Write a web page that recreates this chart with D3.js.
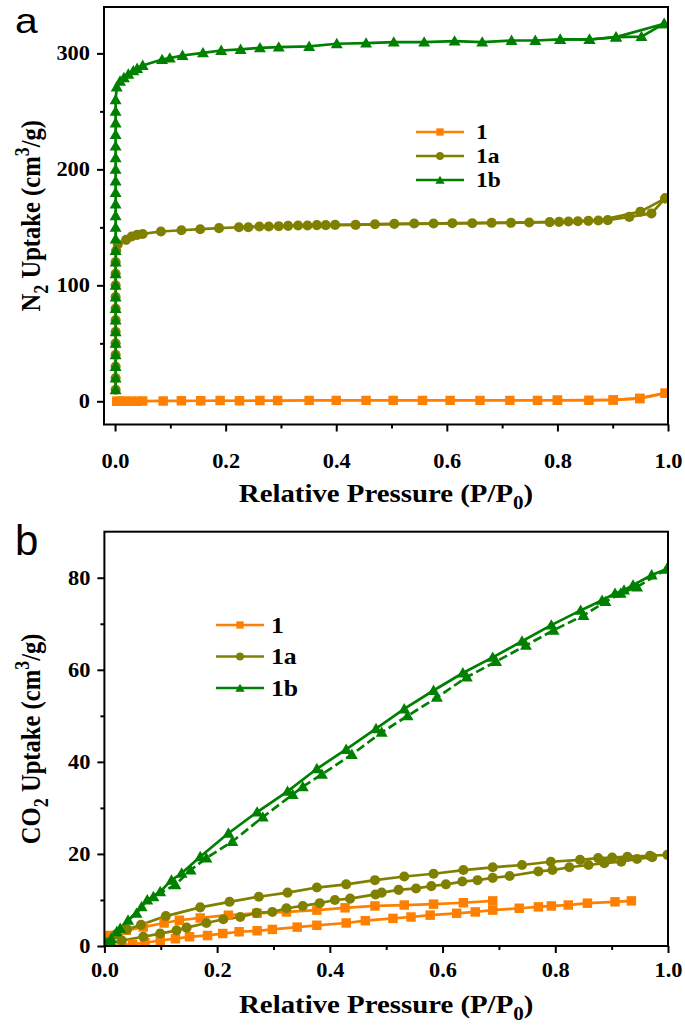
<!DOCTYPE html>
<html><head><meta charset="utf-8">
<script src="https://cdn.jsdelivr.net/npm/d3@7"></script>
<style>body{margin:0;background:#fff} svg{display:block}</style>
</head><body>
<svg id="c" width="685" height="1028"></svg>
<script>
// ---------- data ----------
const seriesNames = ["1", "1a", "1b"];
const xTickLabels = [0.0, 0.2, 0.4, 0.6, 0.8, 1.0];
const xMinorTicks = [0.1, 0.3, 0.5, 0.7, 0.9];
const aYTicks = [0, 100, 200, 300];
const aYMinor = [50, 150, 250];
const bYTicks = [0, 20, 40, 60, 80];
const bYMinor = [10, 30, 50, 70];

// Panel a: N2 uptake, [P/P0, cm3/g]
const a1Ads = [[0.003,0],[0.008,0],[0.013,0],[0.02,0],[0.03,0],[0.04,0],[0.05,0.2],[0.087,0.3],[0.12,0.4],[0.155,0.5],[0.19,0.6],[0.225,0.5],[0.262,0.6],[0.294,0.6],[0.351,0.8],[0.40,0.8],[0.454,0.8],[0.503,0.8],[0.556,0.8],[0.606,0.8],[0.66,0.8],[0.714,0.8],[0.764,0.8],[0.80,0.9],[0.857,0.9],[0.901,1.2],[0.949,2.5],[0.995,7]];
const a1Des = [[0.995,7],[0.949,2.5],[0.901,1.2],[0.80,0.9]];
const a1aAds = [[0.001,10],[0.001,20],[0.001,30],[0.001,40],[0.001,50],[0.001,60],[0.001,70],[0.001,80],[0.001,90],[0.001,100],[0.001,110],[0.001,120],[0.002,130],[0.005,135.4],[0.02,139.2],[0.03,142.1],[0.04,143.5],[0.05,144.3],[0.083,146.4],[0.12,147.5],[0.154,148.4],[0.188,149.3],[0.224,150.1],[0.261,150.7],[0.296,151],[0.331,151.6],[0.365,151.9],[0.398,152.1],[0.435,152.1],[0.47,152.7],[0.505,153],[0.541,153.3],[0.576,153.3],[0.61,153.6],[0.646,153.6],[0.681,153.9],[0.716,153.9],[0.749,154.2],[0.786,154.5],[0.82,155],[0.856,155.6],[0.891,156.2],[0.93,159],[0.97,162],[0.995,175]];
const a1aDes = [[0.995,175],[0.95,163.5],[0.874,155.9],[0.837,155.3],[0.803,154.7],[0.381,151.9],[0.348,151.6],[0.313,151.3],[0.278,150.7],[0.241,150.1]];
const a1bAds = [[0.001,10],[0.001,20],[0.001,30],[0.001,40],[0.001,50],[0.001,60],[0.001,70],[0.001,80],[0.001,90],[0.001,100],[0.001,110],[0.001,120],[0.001,130],[0.001,140],[0.001,150],[0.001,160],[0.001,170],[0.001,180],[0.001,190],[0.001,200],[0.001,210],[0.001,220],[0.001,230],[0.001,240],[0.001,250],[0.001,260],[0.003,271],[0.009,276],[0.016,279],[0.024,282],[0.033,285],[0.04,287],[0.05,289.6],[0.085,294.7],[0.099,295.9],[0.122,298.2],[0.159,300.5],[0.192,302.5],[0.227,303.4],[0.262,304.8],[0.296,305.4],[0.351,306],[0.401,308.3],[0.454,308.9],[0.504,309.7],[0.559,309.7],[0.614,310.6],[0.664,309.7],[0.717,311.1],[0.76,311.1],[0.805,312],[0.858,312],[0.906,314],[0.993,325.6]];
const a1bDes = [[0.993,325.6],[0.952,314.5],[0.906,314],[0.858,312],[0.805,312]];

// Panel b: CO2 uptake, [P/P0, cm3/g]
const b1Upper = [[0.005,2.3],[0.039,3.4],[0.069,4.1],[0.106,5.0],[0.133,5.6],[0.170,6.1],[0.220,6.7],[0.271,7.1],[0.323,7.4],[0.377,7.8],[0.427,8.3],[0.480,8.7],[0.532,8.9],[0.584,9.1],[0.637,9.4],[0.689,9.8]];
const b1Lower = [[0.03,0.2],[0.05,0.4],[0.072,0.7],[0.099,1.2],[0.126,1.6],[0.151,2.0],[0.183,2.3],[0.210,2.7],[0.239,3.1],[0.271,3.3],[0.298,3.6],[0.342,4.1],[0.377,4.5],[0.429,5.0],[0.463,5.5],[0.512,6.0],[0.544,6.3],[0.578,6.7],[0.625,7.1],[0.658,7.4],[0.689,7.8],[0.736,8.2],[0.770,8.5],[0.793,8.7],[0.823,8.9],[0.857,9.3],[0.906,9.6],[0.935,9.8]];
const b1aUpper = [[0.005,0.8],[0.02,2.5],[0.04,3.6],[0.065,4.6],[0.109,6.5],[0.170,8.4],[0.222,9.6],[0.274,10.7],[0.325,11.6],[0.377,12.7],[0.429,13.4],[0.480,14.3],[0.532,15.1],[0.584,15.7],[0.637,16.5],[0.689,17.1],[0.741,17.6],[0.792,18.3],[0.844,18.7],[0.876,19.1],[0.901,19.2],[0.928,19.4],[0.968,19.6],[0.999,19.8]];
const b1aLower = [[0.004,0.3],[0.031,1.2],[0.069,2.0],[0.099,2.7],[0.128,3.4],[0.146,4.0],[0.181,5.0],[0.211,5.8],[0.241,6.3],[0.270,7.2],[0.298,7.4],[0.323,8.2],[0.352,8.7],[0.382,9.3],[0.409,10.0],[0.436,10.3],[0.481,11.2],[0.492,11.6],[0.522,12.2],[0.553,12.5],[0.580,13.0],[0.606,13.4],[0.635,14.0],[0.662,14.3],[0.689,14.8],[0.719,15.2],[0.770,16.2],[0.795,16.5],[0.825,17.1],[0.859,17.6],[0.887,18.0],[0.917,18.3],[0.945,18.9],[0.972,19.3]];
const b1bUpper = [[0.004,0.5],[0.012,1.6],[0.022,3.1],[0.042,5.6],[0.057,7.1],[0.076,10.0],[0.099,11.8],[0.119,14.3],[0.137,15.8],[0.170,19.4],[0.220,24.5],[0.271,29.1],[0.325,33.6],[0.377,38.5],[0.429,42.7],[0.482,47.2],[0.532,51.5],[0.584,55.5],[0.636,59.3],[0.689,62.7],[0.741,66.2],[0.793,69.7],[0.845,72.9],[0.883,75.1],[0.906,76.6],[0.922,77.3],[0.938,78.4],[0.971,80.6],[0.998,81.9]];
const b1bLower = [[0.998,81.9],[0.945,78.0],[0.916,76.6],[0.889,74.8],[0.850,71.8],[0.797,68.6],[0.748,65.3],[0.695,61.8],[0.643,58.4],[0.590,54.0],[0.538,50.0],[0.492,46.4],[0.439,41.6],[0.386,37.3],[0.352,34.6],[0.334,32.9],[0.281,28.0],[0.227,22.7],[0.181,19.1],[0.153,16.5],[0.126,13.3],[0.087,10.7],[0.066,8.5],[0.028,3.8],[0.010,1.2]];

// ---------- style ----------
const COLORS = {"1": "#FF8000", "1a": "#808000", "1b": "#008000"};
const SYMBOLS = {"1": d3.symbolSquare, "1a": d3.symbolCircle, "1b": d3.symbolTriangle};
const MSIZE = {"1": 90, "1a": 80, "1b": 62};
const SERIF = "'Liberation Serif','Times New Roman',serif";
const SANS = "'Liberation Sans',Arial,sans-serif";
const SX = 1.12; // horizontal stretch of the reference lettering

const svg = d3.select("#c");

function panel(o) {
  const g = svg.append("g");
  const x = d3.scaleLinear().domain(o.xDomain).range([o.left, o.right]);
  const y = d3.scaleLinear().domain(o.yDomain).range([o.bottom, o.top]);

  const cid = "clip" + o.letter;
  svg.append("clipPath").attr("id", cid).append("rect")
    .attr("x", o.left).attr("y", o.top).attr("width", o.right - o.left).attr("height", o.bottom - o.top);

  const xAx = d3.axisBottom(x).tickValues(xTickLabels).tickSize(7).tickPadding(o.xPad)
    .tickFormat(d3.format(".1f"));
  const xAxMin = d3.axisBottom(x).tickValues(xMinorTicks).tickSize(4).tickFormat("");
  const yAx = d3.axisLeft(y).tickValues(o.yMajor).tickSize(7).tickPadding(7).tickFormat(d3.format("d"));
  const yAxMin = d3.axisLeft(y).tickValues(o.yMinor).tickSize(4).tickFormat("");
  [[xAx, "x"], [xAxMin, "x"], [yAx, "y"], [yAxMin, "y"]].forEach(([ax, t]) => {
    const ag = g.append("g").attr("transform", t === "x" ? `translate(0,${o.bottom})` : `translate(${o.left},0)`).call(ax);
    ag.select(".domain").remove();
    ag.selectAll("line").attr("stroke", "#000").attr("stroke-width", 2);
    ag.selectAll("text").attr("font-family", SERIF).attr("font-weight", "bold").attr("font-size", 20).attr("fill", "#000");
    if (t === "x") {
      ag.selectAll("text").attr("transform", `scale(${SX},1)`);
    } else {
      ag.selectAll("text").attr("x", -14 / SX).attr("transform", `scale(${SX},1)`);
    }
  });

  const line = d3.line().x(d => x(d[0])).y(d => y(d[1]));
  const pg = g.append("g").attr("clip-path", `url(#${cid})`);
  o.series.forEach(s => {
    const c = COLORS[s.name];
    s.branches.forEach(b => {
      pg.append("path").datum(b.data).attr("d", line).attr("fill", "none")
        .attr("stroke", c).attr("stroke-width", 2.7).attr("stroke-dasharray", b.dash || null);
    });
  });
  o.series.forEach(s => {
    const c = COLORS[s.name];
    const sym = d3.symbol().type(SYMBOLS[s.name]).size(MSIZE[s.name]);
    s.branches.forEach(b => {
      pg.selectAll(null).data(b.data).enter().append("path")
        .attr("d", sym).attr("fill", c)
        .attr("transform", d => `translate(${x(d[0])},${y(d[1]) + (s.name === "1b" ? 1 : 0)})`);
    });
  });

  g.append("rect").attr("x", o.left).attr("y", o.top).attr("width", o.right - o.left).attr("height", o.bottom - o.top)
    .attr("fill", "none").attr("stroke", "#000").attr("stroke-width", 2);

  // legend
  seriesNames.forEach((n, i) => {
    const ly = o.legY + i * o.legDy;
    const c = COLORS[n];
    g.append("line").attr("x1", o.legX).attr("x2", o.legX + 48).attr("y1", ly).attr("y2", ly)
      .attr("stroke", c).attr("stroke-width", 2.7);
    g.append("path").attr("d", d3.symbol().type(SYMBOLS[n]).size(MSIZE[n] * 0.6)())
      .attr("fill", c).attr("transform", `translate(${o.legX + 24},${ly + (n === "1b" ? 1 : 0)})`);
    g.append("text").attr("transform", `translate(${o.legX + o.legTx},${ly + o.legFs * 0.34}) scale(${SX},1)`).text(n)
      .attr("font-family", SERIF).attr("font-weight", "bold").attr("font-size", o.legFs).attr("fill", "#000");
  });

  // x title
  const xt = g.append("text").attr("transform", `translate(${(o.left + o.right) / 2},${o.xTitleY}) scale(${SX * 0.99},1)`)
    .attr("text-anchor", "middle")
    .attr("font-family", SERIF).attr("font-weight", "bold").attr("font-size", 26).attr("fill", "#000");
  xt.append("tspan").text("Relative Pressure (P/P");
  xt.append("tspan").text("0").attr("font-size", 19).attr("dy", 7);
  xt.append("tspan").text(")").attr("dy", -7);

  // y title
  const cy = (o.top + o.bottom) / 2;
  const yt = g.append("text").attr("transform", `translate(${o.yTitleX},${cy}) rotate(-90) scale(1,${SX})`)
    .attr("text-anchor", "middle")
    .attr("font-family", SERIF).attr("font-weight", "bold").attr("font-size", 24.6).attr("fill", "#000");
  yt.append("tspan").text(o.gas);
  yt.append("tspan").text("2").attr("font-size", 18).attr("dy", 7);
  yt.append("tspan").text(" Uptake (cm").attr("dy", -7);
  yt.append("tspan").text("3").attr("font-size", 18).attr("dy", -10);
  yt.append("tspan").text("/g)").attr("dy", 10);

  g.append("text").attr("transform", `translate(${o.letterX},${o.letterY}) scale(${o.letterSx},1)`).text(o.letter)
    .attr("font-family", SANS).attr("font-size", o.letterFs).attr("fill", "#000");
}

panel({
  letter: "a", letterX: 15, letterY: 32.5, letterFs: 35.5, letterSx: 1.15,
  left: 104, right: 668, top: 7, bottom: 424.5,
  xDomain: [-0.02, 1.0], yDomain: [-20, 340],
  yMajor: aYTicks, yMinor: aYMinor, xPad: 22,
  gas: "N",
  xTitleY: 502, yTitleX: 40,
  legX: 416, legY: 132, legDy: 24, legTx: 60, legFs: 21,
  series: [
    {name: "1", branches: [{data: a1Ads}, {data: a1Des}]},
    {name: "1a", branches: [{data: a1aAds}, {data: a1aDes}]},
    {name: "1b", branches: [{data: a1bAds}, {data: a1bDes}]}
  ]
});

panel({
  letter: "b", letterX: 15, letterY: 555, letterFs: 42, letterSx: 1.0,
  left: 104.4, right: 668, top: 531.7, bottom: 946,
  xDomain: [0, 1.0], yDomain: [0, 90],
  yMajor: bYTicks, yMinor: bYMinor, xPad: 10,
  gas: "CO",
  xTitleY: 1013, yTitleX: 40,
  legX: 216, legY: 625, legDy: 31.5, legTx: 55, legFs: 23,
  series: [
    {name: "1", branches: [{data: b1Upper}, {data: b1Lower}]},
    {name: "1a", branches: [{data: b1aUpper}, {data: b1aLower}]},
    {name: "1b", branches: [{data: b1bUpper}, {data: b1bLower, dash: "9,4"}]}
  ]
});
</script>
</body></html>
